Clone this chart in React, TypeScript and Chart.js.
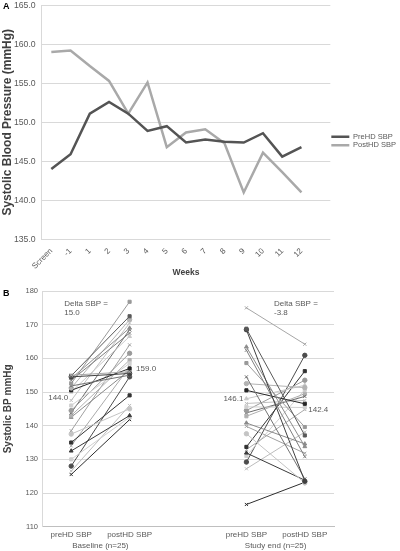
import React, { useEffect, useRef } from "react";
import { Chart, registerables } from "chart.js";

Chart.register(...registerables);
Chart.defaults.font.family = "'Liberation Sans', Arial, Helvetica, sans-serif";

// ---------- Panel A data ----------
const weekLabels = ["Screen", "-1", "1", "2", "3", "4", "5", "6", "7", "8", "9", "10", "11", "12", ""];
const preHDSeries = [144.0, 145.9, 151.1, 152.6, 151.1, 148.9, 149.5, 147.4, 147.8, 147.5, 147.4, 148.6, 145.6, 146.8, null];
const postHDSeries = [159.0, 159.2, 157.2, 155.3, 151.1, 155.1, 146.8, 148.7, 149.1, 147.3, 141.0, 146.1, 143.6, 141.0, null];
const seriesNamesA = ["PreHD SBP", "PostHD SBP"];

// ---------- Panel B data ----------
const groupCategories = ["preHD SBP", "postHD SBP", "", "preHD SBP", "postHD SBP"];
const groupNames = ["Baseline (n=25)", "Study end (n=25)"];
const baselinePre = [155.0, 154.8, 154.5, 154.0, 153.5, 152.5, 151.8, 151.2, 150.5, 150.0, 147.5, 146.0, 144.5, 143.8, 143.0, 142.5, 138.5, 137.5, 135.0, 134.0, 132.5, 130.0, 128.0, 126.5, 125.5];
const baselinePost = [156.0, 172.5, 155.5, 169.0, 167.5, 176.8, 155.0, 171.5, 157.0, 166.5, 170.5, 158.5, 161.5, 168.5, 159.5, 156.5, 164.0, 145.0, 149.0, 157.5, 143.0, 142.5, 154.5, 146.0, 141.8];
const endPre = [175.0, 168.8, 168.5, 163.4, 162.4, 158.6, 154.5, 152.5, 150.5, 148.0, 146.6, 145.6, 144.5, 143.8, 142.8, 140.8, 139.8, 137.6, 133.7, 132.9, 131.9, 131.0, 129.2, 127.2, 116.6];
const endPost = [164.2, 137.1, 123.5, 133.8, 130.8, 139.6, 124.2, 151.3, 146.5, 152.0, 147.5, 145.4, 153.5, 148.7, 149.5, 134.6, 131.8, 123.0, 156.2, 144.8, 123.8, 150.7, 160.9, 138.1, 123.2];
const subjectShades = [
  "#a6a6a6", "#595959", "#404040", "#8c8c8c", "#7f7f7f",
  "#999999", "#737373", "#b3b3b3", "#262626", "#c8c8c8",
  "#bfbfbf", "#d0d0d0", "#9a9a9a", "#6b6b6b", "#b0b0b0",
  "#8a8a8a", "#a0a0a0", "#c4c4c4", "#333333", "#aaaaaa",
  "#3a3a3a", "#cfcfcf", "#4d4d4d", "#bcbcbc", "#2e2e2e",
];
const subjectMarkers = [
  "crossRot", "rect", "circle", "triangle", "crossRot",
  "rect", "crossRot", "circle", "rect", "triangle",
  "crossRot", "rect", "circle", "crossRot", "rect",
  "triangle", "crossRot", "circle", "rect", "crossRot",
  "triangle", "rect", "circle", "crossRot", "crossRot",
];
const meanLabels = ["144.0", "159.0", "146.1", "142.4"];
const deltaLabels = [["Delta SBP =", "15.0"], ["Delta SBP =", "-3.8"]];

const TICK = "#595959";
const GRID = "#d9d9d9";
const TITLE = "#404040";
const CLEAR = "rgba(0,0,0,0)";

function PanelA() {
  const ref = useRef<HTMLCanvasElement>(null);
  useEffect(() => {
    const chart = new Chart(ref.current!, {
      type: "line",
      data: {
        labels: weekLabels,
        datasets: [
          { label: seriesNamesA[0], data: preHDSeries, borderColor: "#545454", backgroundColor: "#545454", borderWidth: 2.5, pointRadius: 0, tension: 0 },
          { label: seriesNamesA[1], data: postHDSeries, borderColor: "#a9a9a9", backgroundColor: "#a9a9a9", borderWidth: 2.5, pointRadius: 0, tension: 0 },
        ],
      },
      options: {
        responsive: false,
        animation: false,
        layout: { padding: { top: 0, right: -6, left: 0, bottom: 0 } },
        plugins: {
          tooltip: { enabled: false },
          legend: {
            position: "right",
            labels: {
              usePointStyle: true,
              pointStyle: "line",
              pointStyleWidth: 18,
              padding: 1,
              font: { size: 7.5 },
              color: TICK,
            },
          },
        },
        scales: {
          x: {
            type: "category",
            offset: true,
            grid: { display: false, drawTicks: false },
            border: { display: false },
            ticks: { autoSkip: false, minRotation: 45, maxRotation: 45, font: { size: 8 }, color: TICK, padding: 7 },
            title: { display: true, text: "Weeks", font: { size: 8.5, weight: "bold" }, color: TITLE, padding: { top: 0, bottom: 4 } },
            afterFit: (s: any) => { s.height = 42.7; },
          },
          y: {
            min: 135,
            max: 165,
            ticks: { stepSize: 5, callback: (v: any) => Number(v).toFixed(1), font: { size: 8.7 }, color: TICK, padding: 0 },
            grid: { color: GRID, drawTicks: true, tickLength: 6, tickColor: CLEAR },
            border: { color: GRID },
            title: { display: true, text: "Systolic Blood Pressure (mmHg)", font: { size: 12, weight: "bold" }, color: TITLE, padding: 0 },
            afterFit: (s: any) => { s.width = 41.7; },
          },
        },
      },
    });
    return () => chart.destroy();
  }, []);
  return <canvas ref={ref} width={400} height={282} style={{ display: "block" }} />;
}

function PanelB() {
  const ref = useRef<HTMLCanvasElement>(null);
  useEffect(() => {
    const datasets = baselinePre.map((_, i) => ({
      label: "S" + (i + 1),
      data: [baselinePre[i], baselinePost[i], null, endPre[i], endPost[i]],
      borderColor: subjectShades[i],
      backgroundColor: subjectShades[i],
      borderWidth: 1,
      pointStyle: subjectMarkers[i],
      pointRadius: 2.2,
      pointBorderWidth: 1,
      spanGaps: false,
      tension: 0,
    }));

    const annot = {
      id: "annot",
      afterDatasetsDraw(chart: any) {
        const { ctx, scales } = chart;
        const xs = scales.x;
        const ys = scales.y;
        ctx.save();
        ctx.font = "8px 'Liberation Sans', Arial, sans-serif";
        ctx.fillStyle = TICK;
        ctx.textBaseline = "middle";
        const items: [string, number, number, number, CanvasTextAlign][] = [
          [meanLabels[0], 0, -3, 148.4, "right"],
          [meanLabels[1], 1, 6.5, 156.9, "left"],
          [meanLabels[2], 3, -3, 147.9, "right"],
          [meanLabels[3], 4, 3.5, 144.7, "left"],
        ];
        for (const [t, c, dx, v, al] of items) {
          ctx.textAlign = al;
          ctx.fillText(t, xs.getPixelForValue(c) + dx, ys.getPixelForValue(v));
        }
        const deltas: [string[], number, number][] = [
          [deltaLabels[0], 0, -7],
          [deltaLabels[1], 3, 27.6],
        ];
        ctx.textAlign = "left";
        for (const [lines, c, dx] of deltas) {
          const x = xs.getPixelForValue(c) + dx;
          ctx.fillText(lines[0], x, ys.getPixelForValue(176.1));
          ctx.fillText(lines[1], x, ys.getPixelForValue(173.6));
        }
        ctx.restore();
      },
    };

    const chart = new Chart(ref.current!, {
      type: "line",
      data: { labels: groupCategories, datasets },
      options: {
        responsive: false,
        animation: false,
        layout: { padding: { top: 9, right: 66, left: 0, bottom: 0 } },
        plugins: { legend: { display: false }, tooltip: { enabled: false } },
        scales: {
          x: {
            type: "category",
            offset: true,
            grid: { display: false, drawTicks: false },
            border: { color: "#bfbfbf" },
            ticks: { font: { size: 8 }, color: TICK, padding: 3.5, autoSkip: false, maxRotation: 0 },
            afterFit: (s: any) => { s.height = 12; },
          },
          x2: {
            type: "linear",
            position: "bottom",
            min: -0.5,
            max: 4.5,
            grid: { display: false, drawTicks: false },
            border: { display: false },
            afterBuildTicks: (s: any) => { s.ticks = [{ value: 0.5 }, { value: 3.5 }]; },
            ticks: {
              font: { size: 8 },
              color: TICK,
              padding: 2.5,
              maxRotation: 0,
              autoSkip: false,
              callback: (v: any) => (Number(v) < 2 ? groupNames[0] : groupNames[1]),
            },
            afterFit: (s: any) => { s.height = 12.3; },
          },
          y: {
            min: 110,
            max: 180,
            ticks: { stepSize: 10, font: { size: 7.5 }, color: TICK, padding: 4 },
            grid: { color: GRID, drawTicks: false },
            border: { color: GRID },
            title: { display: true, text: "Systolic BP mmHg", font: { size: 10, weight: "bold" }, color: TITLE, padding: 2 },
            afterFit: (s: any) => { s.width = 42; },
          },
        },
      },
      plugins: [annot],
    });
    return () => chart.destroy();
  }, []);
  return <canvas ref={ref} width={400} height={269} style={{ display: "block" }} />;
}

export default function App() {
  const letter: React.CSSProperties = {
    position: "absolute",
    left: 3,
    fontFamily: "'Liberation Sans', Arial, sans-serif",
    fontWeight: "bold",
    fontSize: 9,
    color: "#000",
    lineHeight: "10px",
  };
  return (
    <div style={{ position: "absolute", top: 0, left: 0, width: 400, height: 551, background: "#fff" }}>
      <PanelA />
      <PanelB />
      <div style={{ ...letter, top: 1 }}>A</div>
      <div style={{ ...letter, top: 288 }}>B</div>
    </div>
  );
}
